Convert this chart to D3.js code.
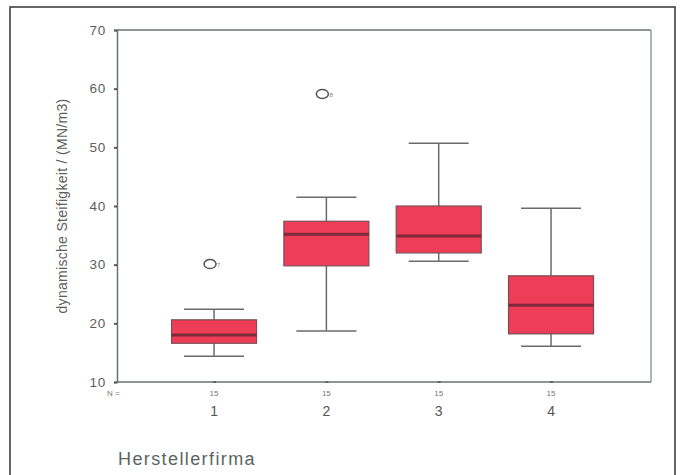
<!DOCTYPE html>
<html><head><meta charset="utf-8">
<script src="https://cdn.jsdelivr.net/npm/d3@7"></script>
<style>body{margin:0;background:#fff;}svg{display:block;font-family:"Liberation Sans",Arial,sans-serif;}</style>
</head><body>
<svg id="c" width="681" height="475"></svg>
<script>
const categories = ["1","2","3","4"];
const counts = [15,15,15,15];
const whiskerLow = [14.4, 18.7, 30.6, 16.1];
const q1 = [16.6, 29.8, 32.0, 18.2];
const median = [18.0, 35.2, 34.9, 23.1];
const q3 = [20.6, 37.4, 40.0, 28.1];
const whiskerHigh = [22.4, 41.5, 50.7, 39.6];
const outlierValues = [30.1, 59.1];
const outlierCats = ["1","2"];
const outlierLabels = ["7","8"];
const yTicks = [10,20,30,40,50,60,70];

const svg = d3.select("#c");
const L = 117, R = 651, T = 30, B = 382;
const y = d3.scaleLinear().domain([10,70]).range([B,T]);
const xc = d3.scaleLinear().domain([0.136, 4.89]).range([L,R]);
const x = c => xc(+c);

// outer frame
svg.append("rect").attr("x",10).attr("y",7).attr("width",665).attr("height",480)
  .attr("fill","none").attr("stroke","#333").attr("stroke-width",1.5);

const axCol = "#66746e";
svg.append("line").attr("x1",L).attr("x2",R).attr("y1",T).attr("y2",T).attr("stroke",axCol).attr("stroke-width",1.5);
svg.append("line").attr("x1",R).attr("x2",R).attr("y1",T).attr("y2",B).attr("stroke","#8f9d97").attr("stroke-width",1.5);

// y axis
const ya = svg.append("g").attr("transform",`translate(${L},0)`)
  .call(d3.axisLeft(y).tickValues(yTicks).tickSize(3).tickPadding(8));
ya.select(".domain").attr("stroke",axCol).attr("stroke-width",1.5);
ya.selectAll(".tick line").attr("stroke","#555").attr("stroke-width",2);
ya.selectAll(".tick text").attr("fill","#5e5e5e").attr("font-size",13.5).attr("letter-spacing",0.8);

// x axis
const xa = svg.append("g").attr("transform",`translate(0,${B})`)
  .call(d3.axisBottom(xc).tickValues(categories.map(Number)).tickSize(3).tickFormat(""));
xa.select(".domain").remove();
svg.append("line").attr("x1",L).attr("x2",R).attr("y1",B).attr("y2",B).attr("stroke",axCol).attr("stroke-width",1.5);
xa.selectAll(".tick line").attr("stroke","#444").attr("stroke-width",3).attr("y1",-1).attr("y2",1);

// N labels
svg.append("text").attr("x",107).attr("y",396).attr("font-size",8).attr("fill","#777").text("N =");
svg.selectAll(".nl").data(categories).enter().append("text")
  .attr("x",d=>x(d)).attr("y",396).attr("text-anchor","middle").attr("font-size",8).attr("fill","#777")
  .text((d,i)=>counts[i]);
svg.selectAll(".cl").data(categories).enter().append("text")
  .attr("x",d=>x(d)).attr("y",416).attr("text-anchor","middle").attr("font-size",14).attr("fill","#555")
  .text(d=>d);

// titles
svg.append("text").attr("x",118).attr("y",465).attr("font-size",18).attr("letter-spacing",1.4)
  .attr("fill","#5a6661").text("Herstellerfirma");
svg.append("text").attr("transform",`translate(67,206) rotate(-90)`).attr("text-anchor","middle")
  .attr("font-size",14).attr("letter-spacing",0.3).attr("fill","#606060").text("dynamische Steifigkeit / (MN/m3)");

// boxes
const bw = 85, cw = 60;
const g = svg.selectAll(".box").data(categories).enter().append("g");
g.append("line").attr("x1",d=>x(d)).attr("x2",d=>x(d))
  .attr("y1",(d,i)=>y(whiskerHigh[i])).attr("y2",(d,i)=>y(whiskerLow[i]))
  .attr("stroke","#6a6a6a").attr("stroke-width",1.5);
g.append("line").attr("x1",d=>x(d)-cw/2).attr("x2",d=>x(d)+cw/2)
  .attr("y1",(d,i)=>y(whiskerHigh[i])).attr("y2",(d,i)=>y(whiskerHigh[i]))
  .attr("stroke","#6a6a6a").attr("stroke-width",1.5);
g.append("line").attr("x1",d=>x(d)-cw/2).attr("x2",d=>x(d)+cw/2)
  .attr("y1",(d,i)=>y(whiskerLow[i])).attr("y2",(d,i)=>y(whiskerLow[i]))
  .attr("stroke","#6a6a6a").attr("stroke-width",1.5);
g.append("rect").attr("x",d=>x(d)-bw/2).attr("width",bw)
  .attr("y",(d,i)=>y(q3[i])).attr("height",(d,i)=>y(q1[i])-y(q3[i]))
  .attr("fill","#ee3d57").attr("stroke","#7d4f57").attr("stroke-width",1.2);
g.append("line").attr("x1",d=>x(d)-bw/2).attr("x2",d=>x(d)+bw/2)
  .attr("y1",(d,i)=>y(median[i])).attr("y2",(d,i)=>y(median[i]))
  .attr("stroke","#7e2a38").attr("stroke-width",3);

// outliers
outlierValues.forEach((v,i)=>{
  const cx = x(outlierCats[i]) - 4, cy = y(v);
  svg.append("ellipse").attr("cx",cx).attr("cy",cy).attr("rx",6).attr("ry",4.5)
    .attr("fill","none").attr("stroke","#555").attr("stroke-width",1.5);
  svg.append("text").attr("x",cx+7).attr("y",cy+3).attr("font-size",6).attr("fill","#777").text(outlierLabels[i]);
});
</script>
</body></html>
